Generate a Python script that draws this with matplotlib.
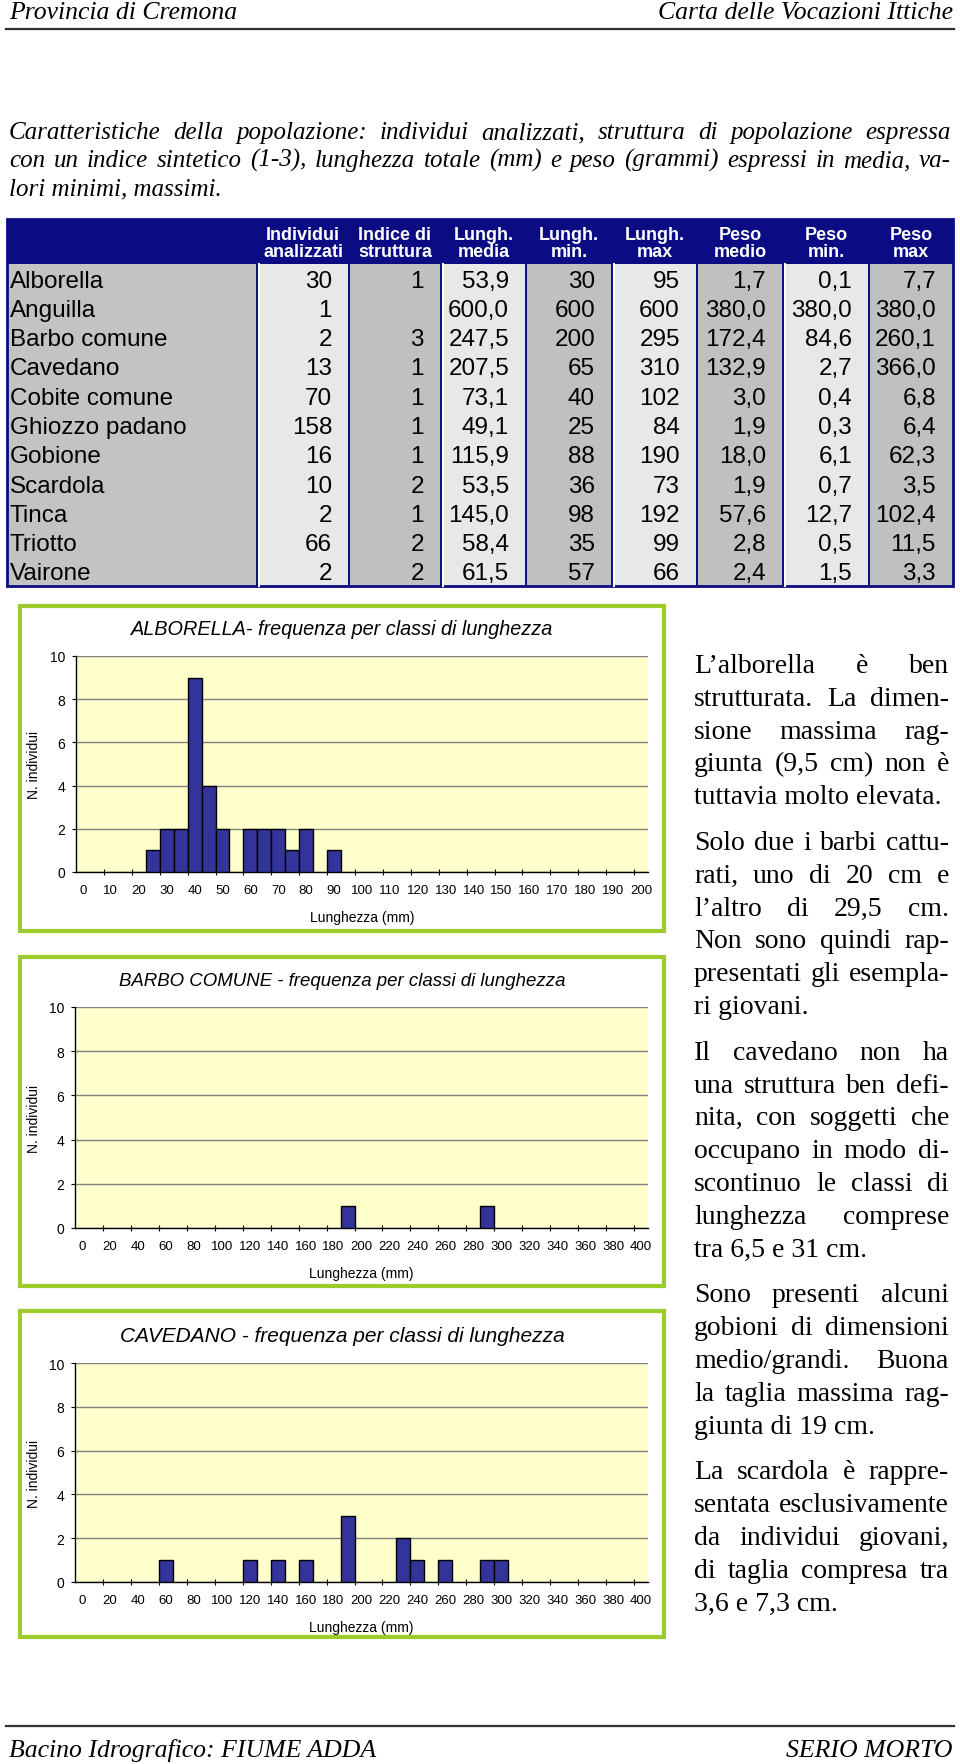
import numpy as np
import matplotlib
matplotlib.use('Agg')
import matplotlib.pyplot as plt
from matplotlib.patches import Rectangle

W, H = 960, 1765

# tabella caratteristiche popolazione
specie = ['Alborella', 'Anguilla', 'Barbo comune', 'Cavedano', 'Cobite comune',
          'Ghiozzo padano', 'Gobione', 'Scardola', 'Tinca', 'Triotto', 'Vairone']
individui = [30, 1, 2, 13, 70, 158, 16, 10, 2, 66, 2]
indice = [1, None, 3, 1, 1, 1, 1, 2, 1, 2, 2]
lungh_media = [53.9, 600.0, 247.5, 207.5, 73.1, 49.1, 115.9, 53.5, 145.0, 58.4, 61.5]
lungh_min = [30, 600, 200, 65, 40, 25, 88, 36, 98, 35, 57]
lungh_max = [95, 600, 295, 310, 102, 84, 190, 73, 192, 99, 66]
peso_medio = [1.7, 380.0, 172.4, 132.9, 3.0, 1.9, 18.0, 1.9, 57.6, 2.8, 2.4]
peso_min = [0.1, 380.0, 84.6, 2.7, 0.4, 0.3, 6.1, 0.7, 12.7, 0.5, 1.5]
peso_max = [7.7, 380.0, 260.1, 366.0, 6.8, 6.4, 62.3, 3.5, 102.4, 11.5, 3.3]
intestazioni = ['Individui\nanalizzati', 'Indice di\nstruttura', 'Lungh.\nmedia', 'Lungh.\nmin.',
                'Lungh.\nmax', 'Peso\nmedio', 'Peso\nmin.', 'Peso\nmax']

# istogrammi (classi di lunghezza in mm)
alb_classi = [25, 30, 35, 40, 45, 50, 60, 65, 70, 75, 80, 90]
alb_freq = [1, 2, 2, 9, 4, 2, 2, 2, 2, 1, 2, 1]
barbo_classi = [190, 290]
barbo_freq = [1, 1]
cav_classi = [60, 120, 140, 160, 190, 230, 240, 260, 290, 300]
cav_freq = [1, 1, 1, 1, 3, 2, 1, 1, 1, 1]

intro = ['Caratteristiche della popolazione: individui analizzati, struttura di popolazione espressa',
         'con un indice sintetico (1-3), lunghezza totale (mm) e peso (grammi) espressi in media, va-',
         'lori minimi, massimi.']

commenti = [
    ['L\u2019alborella è ben', 'strutturata. La dimen-', 'sione massima rag-',
     'giunta (9,5 cm) non è', 'tuttavia molto elevata.'],
    ['Solo due i barbi cattu-', 'rati, uno di 20 cm e', 'l\u2019altro di 29,5 cm.',
     'Non sono quindi rap-', 'presentati gli esempla-', 'ri giovani.'],
    ['Il cavedano non ha', 'una struttura ben defi-', 'nita, con soggetti che',
     'occupano in modo di-', 'scontinuo le classi di', 'lunghezza comprese', 'tra 6,5 e 31 cm.'],
    ['Sono presenti alcuni', 'gobioni di dimensioni', 'medio/grandi. Buona',
     'la taglia massima rag-', 'giunta di 19 cm.'],
    ['La scardola è rappre-', 'sentata esclusivamente', 'da individui giovani,',
     'di taglia compresa tra', '3,6 e 7,3 cm.'],
]

fig = plt.figure(figsize=(W / 100, H / 100), dpi=100)
ax0 = fig.add_axes([0, 0, 1, 1])
ax0.set_xlim(0, W)
ax0.set_ylim(H, 0)
ax0.axis('off')

serif = 'Liberation Serif'
sans = 'Liberation Sans'


def riga(testo, x0, x1, y, giust, **kw):
    parole = testo.split()
    if not giust or len(parole) < 2:
        ax0.text(x0, y, testo, ha='left', va='baseline', **kw)
        return
    tt = [ax0.text(0, y, p, ha='left', va='baseline', **kw) for p in parole]
    r = fig.canvas.get_renderer()
    larg = [t.get_window_extent(r).width for t in tt]
    gap = (x1 - x0 - sum(larg)) / (len(parole) - 1)
    x = x0
    for t, l in zip(tt, larg):
        t.set_x(x)
        x += l + gap


# intestazione e piede pagina
ax0.text(9, 19, 'Provincia di Cremona', family=serif, style='italic', fontsize=18.5, va='baseline')
ax0.text(953, 19, 'Carta delle Vocazioni Ittiche', family=serif, style='italic', fontsize=18.5,
         va='baseline', ha='right')
ax0.plot([6, 954], [30, 30], color='#333333', lw=1.6)
ax0.plot([6, 954], [1727, 1727], color='#333333', lw=1.6)
ax0.text(9, 1757, 'Bacino Idrografico: FIUME ADDA', family=serif, style='italic', fontsize=18.5,
         va='baseline')
ax0.text(953, 1757, 'SERIO MORTO', family=serif, style='italic', fontsize=18.5, va='baseline',
         ha='right')

for i, l in enumerate(intro):
    riga(l, 9, 951, 139 + i * 28, i < len(intro) - 1, family=serif, style='italic', fontsize=18)

# tabella
bordi = [7, 257, 349, 441, 526, 612, 697, 783, 869, 953]
top, hdr, bot = 220, 265, 587
navy = '#0b0b84'
h_riga = (bot - hdr) / len(specie)
ax0.add_patch(Rectangle((bordi[0], top), bordi[-1] - bordi[0], hdr - top, fc=navy, ec='none'))
ax0.add_patch(Rectangle((bordi[0], hdr), bordi[1] - bordi[0], bot - hdr, fc='#c3c3c3', ec='none'))
colonne = [(individui, 0), (indice, 0), (lungh_media, 1), (lungh_min, 0), (lungh_max, 0),
           (peso_medio, 1), (peso_min, 1), (peso_max, 1)]
for j, (vals, dec) in enumerate(colonne):
    xa, xb = bordi[j + 1], bordi[j + 2]
    chiaro = j % 2 == 0
    ax0.add_patch(Rectangle((xa, hdr), xb - xa, bot - hdr,
                            fc='#e8e8e8' if chiaro else '#c0c0c0', ec='none'))
    if chiaro:
        ax0.plot([xa + 2, xa + 2], [hdr, bot], color='white', lw=1.5)
    ax0.text((xa + xb) / 2, (top + hdr) / 2 + 1, intestazioni[j], color='white', fontsize=13,
             family=sans, weight='bold', ha='center', va='center', linespacing=1.0)
    for i, v in enumerate(vals):
        if v is None:
            continue
        s = f'{v:.{dec}f}'.replace('.', ',')
        ax0.text(xb - 17, hdr + (i + 0.5) * h_riga + 8, s, fontsize=17.5, family=sans,
                 ha='right', va='baseline')
for i, s in enumerate(specie):
    ax0.text(10, hdr + (i + 0.5) * h_riga + 8, s, fontsize=17.5, family=sans,
             ha='left', va='baseline')
for x in bordi[1:-1]:
    ax0.plot([x, x], [hdr, bot], color=navy, lw=1.4)
ax0.add_patch(Rectangle((bordi[0], top), bordi[-1] - bordi[0], bot - top, fill=False, ec=navy, lw=2))


def istogramma(classi, freq, passo, xmax, box, area, titolo, tit_y, tit_size):
    bx0, by0, bx1, by1 = box
    ax0.add_patch(Rectangle((bx0, by0), bx1 - bx0, by1 - by0, fill=False, ec='#9ccb2a', lw=3))
    x0, y0, x1, y1 = area
    ax = fig.add_axes([x0 / W, 1 - y1 / H, (x1 - x0) / W, (y1 - y0) / H])
    ax.set_facecolor('#ffffcc')
    ax.bar(classi, freq, width=passo, color='#333399', edgecolor='black', lw=1, zorder=3)
    ax.set_xlim(-passo / 2, xmax + passo / 2)
    ax.set_ylim(0, 10)
    ax.set_yticks(range(0, 11, 2))
    ax.set_xticks(np.arange(0, xmax + 1, 2 * passo))
    ax.set_xticks(np.arange(1.5 * passo, xmax, 2 * passo), minor=True)
    ax.tick_params(axis='x', which='major', length=0, pad=9, labelsize=9.5)
    ax.tick_params(axis='x', which='minor', length=4, direction='inout', width=0.8)
    ax.tick_params(axis='y', length=3, pad=5, labelsize=10)
    for lab in ax.get_xticklabels() + ax.get_yticklabels():
        lab.set_family(sans)
    ax.yaxis.grid(True, color='#808080', lw=1)
    ax.set_axisbelow(True)
    for s in ['top', 'right']:
        ax.spines[s].set_visible(False)
    for s in ['left', 'bottom']:
        ax.spines[s].set_linewidth(1)
    ax0.text((bx0 + bx1) / 2, tit_y, titolo, family=sans, style='italic', fontsize=tit_size,
             ha='center', va='center')
    ax0.text((x0 + x1) / 2, y1 + 45, 'Lunghezza (mm)', family=sans, fontsize=10,
             ha='center', va='center')
    ax0.text(34, (y0 + y1) / 2, 'N. individui', family=sans, fontsize=10, rotation=90,
             ha='center', va='center')
    return ax


istogramma(alb_classi, alb_freq, 5, 200, (20, 607, 664, 932), (76, 657, 648, 873),
           'ALBORELLA- frequenza per classi di lunghezza', 629, 14.3)
istogramma(barbo_classi, barbo_freq, 10, 400, (20, 958, 664, 1287), (75, 1008, 648, 1229),
           'BARBO COMUNE - frequenza per classi di lunghezza', 982, 13.4)
istogramma(cav_classi, cav_freq, 10, 400, (20, 1312, 664, 1638), (75, 1364, 648, 1583),
           'CAVEDANO - frequenza per classi di lunghezza', 1337, 15)

# commenti a destra
y = 673
for par in commenti:
    for k, l in enumerate(par):
        riga(l, 694, 949, y, k < len(par) - 1, family=serif, fontsize=20)
        y += 32.8
    y += 13

fig.savefig('out.png', dpi=100)
